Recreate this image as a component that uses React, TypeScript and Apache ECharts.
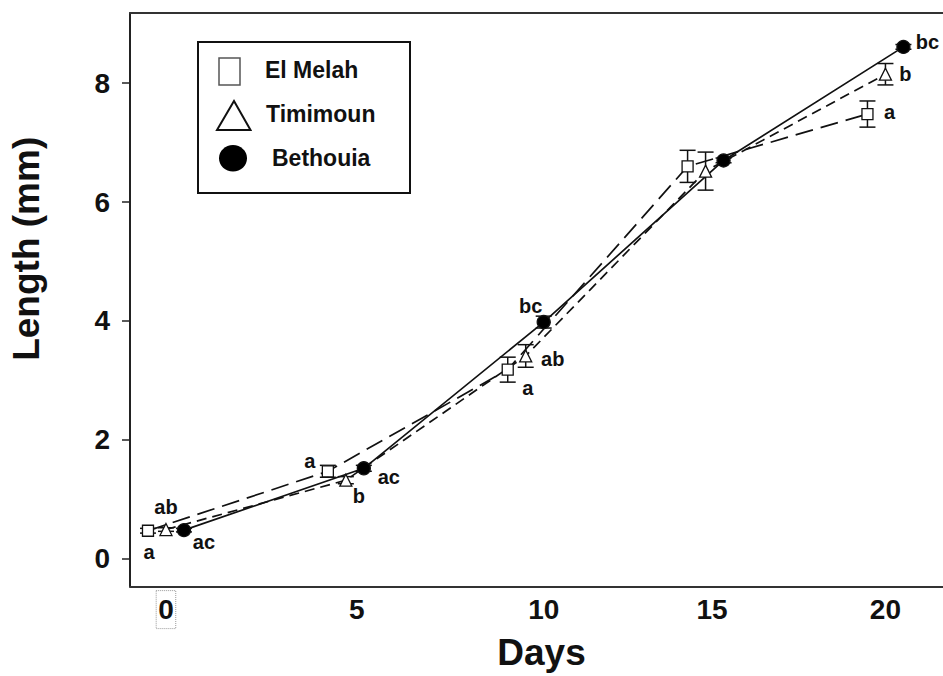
import React, { useEffect, useRef } from "react";
import * as echarts from "echarts";

// ---- data ----
const days = [0, 5, 10, 15, 20];
const seriesNames = ["El Melah", "Timimoun", "Bethouia"];
const elMelah = [0.47, 1.47, 3.18, 6.6, 7.48];
const timimoun = [0.49, 1.32, 3.41, 6.52, 8.15];
const bethouia = [0.48, 1.52, 3.98, 6.7, 8.61];
const elMelahErr = [0.04, 0.1, 0.21, 0.27, 0.22];
const timimounErr = [0.03, 0.06, 0.19, 0.32, 0.18];
const bethouiaErr = [0.03, 0.05, 0.1, 0.04, 0.04];
const elMelahSig = ["a", "a", "a", "", "a"];
const timimounSig = ["ab", "b", "ab", "", "b"];
const bethouiaSig = ["ac", "ac", "bc", "", "bc"];
const xTicks = [0, 5, 10, 15, 20];
const yTicks = [0, 2, 4, 6, 8];

// ---- layout / style ----
const FONT = "'Liberation Sans', Arial, Helvetica, sans-serif";
const INK = "#111";
const dodge = [-0.5, 0, 0.5];
const sigOffsets = [
  [[1, 21], [-18, -10], [20, 18], [0, 0], [22, -2]],
  [[0, -23], [13, 16], [27, 3], [0, 0], [20, 0]],
  [[20, 12], [25, 9], [-13, -16], [0, 0], [24, -5]],
];
const styles = [
  { symbol: "rect", size: 11, dash: [18, 8] as any, fill: "#fff" },
  { symbol: "triangle", size: 12, dash: [10, 6] as any, fill: "#fff" },
  { symbol: "circle", size: 13, dash: "solid" as any, fill: "#000" },
];
const xLabelShift: Record<number, number> = { 0: 0, 5: 22, 10: 36, 15: 13, 20: 0 };

export default function App() {
  const ref = useRef<HTMLDivElement>(null);
  useEffect(() => {
    if (!ref.current) return;
    const chart = echarts.init(ref.current, null, { renderer: "svg" });
    const vals = [elMelah, timimoun, bethouia];
    const errs = [elMelahErr, timimounErr, bethouiaErr];
    const sigs = [elMelahSig, timimounSig, bethouiaSig];

    const errSeries = vals.map((v, g) => ({
      type: "custom",
      name: seriesNames[g] + " SE",
      z: 2,
      silent: true,
      clip: false,
      encode: { x: 0, y: 1 },
      data: v.map((y, i) => [days[i] + dodge[g], y, errs[g][i]]),
      renderItem: (params: any, api: any) => {
        const x = api.value(0);
        const y = api.value(1);
        const e = api.value(2);
        const top = api.coord([x, y + e]);
        const bot = api.coord([x, y - e]);
        const hw = 8;
        const st = { stroke: INK, lineWidth: 1.5 };
        return {
          type: "group",
          children: [
            { type: "line", shape: { x1: top[0], y1: top[1], x2: bot[0], y2: bot[1] }, style: st },
            { type: "line", shape: { x1: top[0] - hw, y1: top[1], x2: top[0] + hw, y2: top[1] }, style: st },
            { type: "line", shape: { x1: bot[0] - hw, y1: bot[1], x2: bot[0] + hw, y2: bot[1] }, style: st },
          ],
        };
      },
    }));

    const lineSeries = vals.map((v, g) => ({
      type: "line",
      name: seriesNames[g],
      z: 3,
      silent: true,
      symbol: styles[g].symbol,
      symbolSize: styles[g].size,
      showSymbol: true,
      itemStyle: { color: styles[g].fill, borderColor: INK, borderWidth: 1.3 },
      lineStyle: { color: INK, width: 1.7, type: styles[g].dash },
      data: v.map((y, i) => ({
        value: [days[i] + dodge[g], y],
        label: {
          show: !!sigs[g][i],
          formatter: sigs[g][i],
          position: "inside",
          offset: sigOffsets[g][i],
          color: INK,
          fontSize: 20,
          fontWeight: "bold",
          fontFamily: FONT,
          align: "center",
          verticalAlign: "middle",
        },
      })),
    }));

    const tickFont = { fontSize: 28, fontWeight: "bold", color: INK, fontFamily: FONT, lineHeight: 28 };
    const rich: any = {};
    xTicks.forEach((t) => {
      rich["t" + t] = t === 0
        ? { ...tickFont, padding: [5, 2, 5, 2], borderColor: "#999", borderWidth: 1, borderType: "dotted" }
        : { ...tickFont, padding: [5, 0, 5, xLabelShift[t]] };
    });

    const option: any = {
      animation: false,
      grid: { left: 129, right: 0, top: 13, bottom: 88 },
      xAxis: [
        {
          type: "value",
          min: -1,
          max: 21.6,
          axisLine: { onZero: false, lineStyle: { color: "#333", width: 2 } },
          axisTick: { show: false },
          splitLine: { show: false },
          axisLabel: {
            customValues: xTicks,
            margin: 9,
            formatter: (v: number) => `{t${v}|${v}}`,
            rich,
          },
          name: "Days",
          nameLocation: "middle",
          nameGap: 45,
          nameTextStyle: { fontSize: 37, fontWeight: "bold", color: INK, fontFamily: FONT, padding: [0, 0, 0, 10] },
        },
        {
          type: "value",
          position: "top",
          min: -1,
          max: 21.6,
          axisLine: { show: true, onZero: false, lineStyle: { color: "#333", width: 2 } },
          axisTick: { show: false },
          axisLabel: { show: false },
          splitLine: { show: false },
        },
      ],
      yAxis: {
        type: "value",
        min: -0.47,
        max: 9.18,
        axisLine: { show: true, onZero: false, lineStyle: { color: "#222", width: 2 } },
        axisTick: { show: true, length: 8, customValues: yTicks, lineStyle: { color: "#222", width: 1.5 } },
        axisLabel: { customValues: yTicks, margin: 20, fontSize: 28, fontWeight: "bold", color: INK, fontFamily: FONT },
        splitLine: { show: false },
        name: "Length (mm)",
        nameLocation: "middle",
        nameGap: 85,
        nameTextStyle: { fontSize: 37, fontWeight: "bold", color: INK, fontFamily: FONT, padding: [0, 0, 0, 102] },
      },
      graphic: [
        { type: "rect", z: 10, shape: { x: 198, y: 42, width: 212, height: 151 }, style: { fill: "#fff", stroke: INK, lineWidth: 2 } },
        { type: "rect", z: 11, shape: { x: 219, y: 58, width: 21, height: 27 }, style: { fill: "none", stroke: "#555", lineWidth: 1.5 } },
        { type: "polygon", z: 11, shape: { points: [[217, 130], [250.5, 130], [234, 101]] }, style: { fill: "none", stroke: INK, lineWidth: 2 } },
        { type: "ellipse", z: 11, shape: { cx: 233, cy: 158.3, rx: 14, ry: 13.3 }, style: { fill: "#000" } },
        { type: "text", z: 11, x: 265, y: 69.5, style: { text: seriesNames[0], fontSize: 23, fontWeight: "bold", fontFamily: FONT, fill: INK, verticalAlign: "middle" } },
        { type: "text", z: 11, x: 266, y: 114, style: { text: seriesNames[1], fontSize: 23, fontWeight: "bold", fontFamily: FONT, fill: INK, verticalAlign: "middle" } },
        { type: "text", z: 11, x: 272, y: 158, style: { text: seriesNames[2], fontSize: 23, fontWeight: "bold", fontFamily: FONT, fill: INK, verticalAlign: "middle" } },
      ],
      series: [...errSeries, ...lineSeries],
    };
    chart.setOption(option);
    return () => chart.dispose();
  }, []);
  return (
    <div
      ref={ref}
      style={{ position: "fixed", left: 0, top: 0, width: 943, height: 676, background: "#fff" }}
    />
  );
}
